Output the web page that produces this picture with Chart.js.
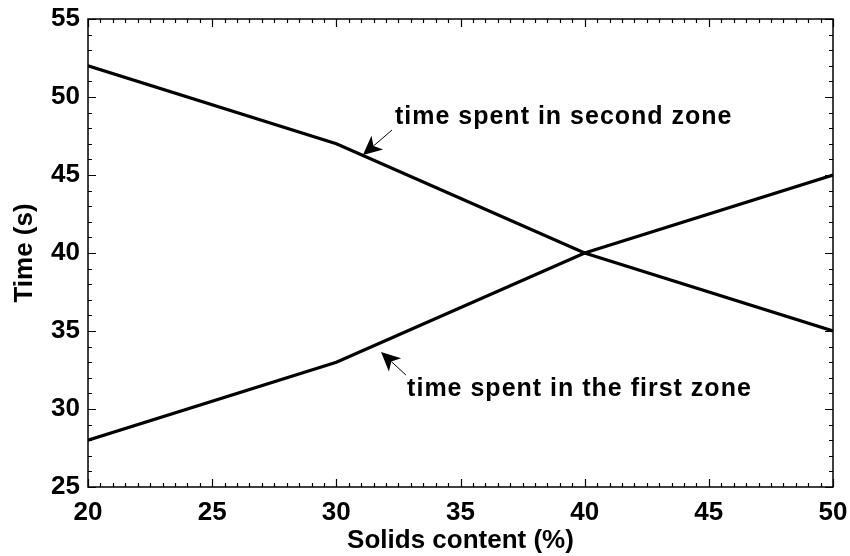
<!DOCTYPE html>
<html>
<head>
<meta charset="utf-8">
<script src="https://cdn.jsdelivr.net/npm/chart.js@4"></script>
<style>
html,body{margin:0;padding:0;background:#fff;}
#wrap{width:850px;height:556px;position:relative;}
</style>
</head>
<body>
<div id="wrap"><canvas id="c" width="850" height="556"></canvas></div>
<script>
const solidsContent = [20, 30, 40, 50];
const firstZone = [28, 33, 40, 45];
const secondZone = [52, 47, 40, 35];
const xTickValues = [20, 25, 30, 35, 40, 45, 50];
const yTickValues = [25, 30, 35, 40, 45, 50, 55];
const annotationTexts = ['time spent in second zone', 'time spent in the first zone'];
// annotation anchors in data units: [textX, textY, tailX, tailY, tipX, tipY]
const annotationAnchors = [
  [32.36, 48.27, 32.24, 47.88, 31.07, 46.28],
  [32.85, 30.83, 32.80, 32.18, 31.80, 33.65]
];

const FONT = "'Liberation Sans', Arial, sans-serif";

const framePlugin = {
  id: 'frame',
  afterDraw(chart) {
    const ctx = chart.ctx, a = chart.chartArea;
    const xs = chart.scales.x, ys = chart.scales.y;
    ctx.save();
    ctx.strokeStyle = '#000';
    ctx.lineWidth = 1.5;
    ctx.strokeRect(a.left, a.top, a.right - a.left, a.bottom - a.top);
    ctx.beginPath();
    for (let v = xs.min; v <= xs.max + 1e-9; v += 0.5) {
      const p = Math.round(xs.getPixelForValue(v)) + 0.5;
      const len = (Math.abs(v % 5) < 1e-9) ? 8 : 4;
      ctx.moveTo(p, a.bottom); ctx.lineTo(p, a.bottom - len);
      ctx.moveTo(p, a.top); ctx.lineTo(p, a.top + len);
    }
    for (let v = ys.min; v <= ys.max + 1e-9; v += 1) {
      const p = Math.round(ys.getPixelForValue(v)) + 0.5;
      const len = (Math.abs(v % 5) < 1e-9) ? 8 : 4;
      ctx.moveTo(a.left, p); ctx.lineTo(a.left + len, p);
      ctx.moveTo(a.right, p); ctx.lineTo(a.right - len, p);
    }
    ctx.lineWidth = 1.2;
    ctx.stroke();

    // annotations
    annotationAnchors.forEach((an, i) => {
      const tx = xs.getPixelForValue(an[0]), ty = ys.getPixelForValue(an[1]);
      const sx = xs.getPixelForValue(an[2]), sy = ys.getPixelForValue(an[3]);
      const ex = xs.getPixelForValue(an[4]), ey = ys.getPixelForValue(an[5]);
      ctx.fillStyle = '#000';
      ctx.font = 'bold 25px ' + FONT;
      ctx.textBaseline = 'alphabetic';
      ctx.textAlign = 'left';
      try { ctx.letterSpacing = '1px'; } catch (e) {}
      ctx.fillText(annotationTexts[i], tx, ty);
      try { ctx.letterSpacing = '0px'; } catch (e) {}
      // arrow line
      const ang = Math.atan2(ey - sy, ex - sx);
      const hl = 19, hw = 9, notch = 14;
      ctx.beginPath();
      ctx.lineWidth = 1;
      ctx.moveTo(sx, sy);
      ctx.lineTo(ex - Math.cos(ang) * notch, ey - Math.sin(ang) * notch);
      ctx.stroke();
      // arrow head
      const bx = ex - Math.cos(ang) * hl, by = ey - Math.sin(ang) * hl;
      const nx = -Math.sin(ang), ny = Math.cos(ang);
      ctx.beginPath();
      ctx.moveTo(ex, ey);
      ctx.lineTo(bx + nx * hw, by + ny * hw);
      ctx.lineTo(ex - Math.cos(ang) * notch, ey - Math.sin(ang) * notch);
      ctx.lineTo(bx - nx * hw, by - ny * hw);
      ctx.closePath();
      ctx.fill();
    });
    ctx.restore();
  }
};

new Chart(document.getElementById('c'), {
  type: 'line',
  data: {
    labels: solidsContent,
    datasets: [
      { label: 'time spent in second zone', data: solidsContent.map((x, i) => ({ x, y: secondZone[i] })),
        borderColor: '#000', borderWidth: 3.2, pointRadius: 0, tension: 0, fill: false },
      { label: 'time spent in the first zone', data: solidsContent.map((x, i) => ({ x, y: firstZone[i] })),
        borderColor: '#000', borderWidth: 3.2, pointRadius: 0, tension: 0, fill: false }
    ]
  },
  options: {
    responsive: false,
    animation: false,
    devicePixelRatio: 1,
    layout: { padding: { top: 19, right: 17, left: 0, bottom: 0 } },
    plugins: { legend: { display: false }, tooltip: { enabled: false } },
    scales: {
      x: {
        type: 'linear', min: 20, max: 50,
        afterBuildTicks(s) { s.ticks = xTickValues.map(v => ({ value: v })); },
        afterFit(s) { s.height = 69; s.paddingLeft = 0; s.paddingRight = 0; },
        grid: { display: false, drawTicks: false },
        border: { display: false },
        ticks: { color: '#000', padding: 10, maxRotation: 0, font: { family: FONT, size: 26, weight: 'bold' } },
        title: { display: true, text: 'Solids content (%)', color: '#000', padding: { top: 1, bottom: 0 },
          font: { family: FONT, size: 26, weight: 'bold' } }
      },
      y: {
        type: 'linear', min: 25, max: 55,
        afterBuildTicks(s) { s.ticks = yTickValues.map(v => ({ value: v })); },
        afterFit(s) { s.width = 88; s.paddingTop = 0; s.paddingBottom = 0; },
        grid: { display: false, drawTicks: false },
        border: { display: false },
        ticks: { color: '#000', padding: 8, font: { family: FONT, size: 26, weight: 'bold' } },
        title: { display: true, text: 'Time (s)', color: '#000', padding: { top: 9, bottom: 0 },
          font: { family: FONT, size: 26, weight: 'bold' } }
      }
    }
  },
  plugins: [framePlugin]
});
</script>
</body>
</html>
